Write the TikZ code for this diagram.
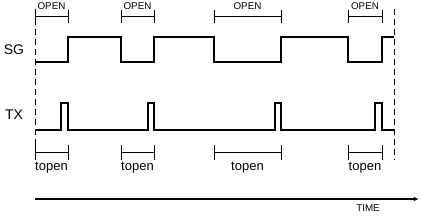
\documentclass[tikz,border=0pt]{standalone}
\usepackage{fontspec}
\setmainfont{Liberation Sans}
\usetikzlibrary{arrows.meta}
\begin{document}
\begin{tikzpicture}[x=1pt,y=-1pt,
  sig/.style={line width=1.1pt},
  guide/.style={line width=1pt, dash pattern=on 6pt off 4pt},
  brk/.style={line width=0.8pt},
  small/.style={font=\fontsize{9.8}{10}\selectfont, inner sep=0pt},
  mid/.style={font=\fontsize{13}{14}\selectfont, inner sep=0pt},
  big/.style={font=\fontsize{14}{15}\selectfont, inner sep=0pt}]
\useasboundingbox[fill=white] (0,0) rectangle (423,216);
% guides
\draw[guide] (35,9) -- (35,146);
\draw[guide] (394,9) -- (394,160);
% labels
\node[big] (sg) at (14,50) {SG};
\node[big] (tx) at (14,115) {TX};
% SG waveform
\draw[sig] (35,62) -- (68,62) -- (68,37) -- (121,37) -- (121,62) -- (154,62) -- (154,37)
  -- (214,37) -- (214,62) -- (281,62) -- (281,37) -- (348,37) -- (348,62) -- (382,62)
  -- (382,37) -- (394,37);
% TX waveform
\draw[sig] (35,130) -- (61,130) -- (61,103) -- (68,103) -- (68,130)
  -- (148,130) -- (148,103) -- (154,103) -- (154,130)
  -- (275,130) -- (275,103) -- (281,103) -- (281,130)
  -- (375,130) -- (375,103) -- (382,103) -- (382,130) -- (394,130);
% OPEN brackets
\foreach \a/\b/\n in {35/68/o1,121/154/o2,214/281/o3,348/382/o4}{
  \draw[brk] (\a,10) -- (\a,23) (\a,16) -- (\b,16) (\b,10) -- (\b,23);
  \node[small] (\n) at ({(\a+\b)/2},6.5) {OPEN};
}
% topen brackets
\foreach \a/\b/\n in {35/68/t1,121/154/t2,214/281/t3,348/382/t4}{
  \draw[brk] (\a,145) -- (\a,160) (\a,152.5) -- (\b,152.5) (\b,145) -- (\b,160);
  \node[mid,anchor=base] (\n) at ({(\a+\b)/2},171) {topen};
}
% time axis
\coordinate (t0) at (35,199);
\coordinate (t1) at (418,199);
\draw[line width=1.8pt,-{Stealth[length=4.5pt,width=4.5pt]}] (t0) -- (t1);
\node[small] (time) at (368,208) {TIME};
\end{tikzpicture}
\end{document}
